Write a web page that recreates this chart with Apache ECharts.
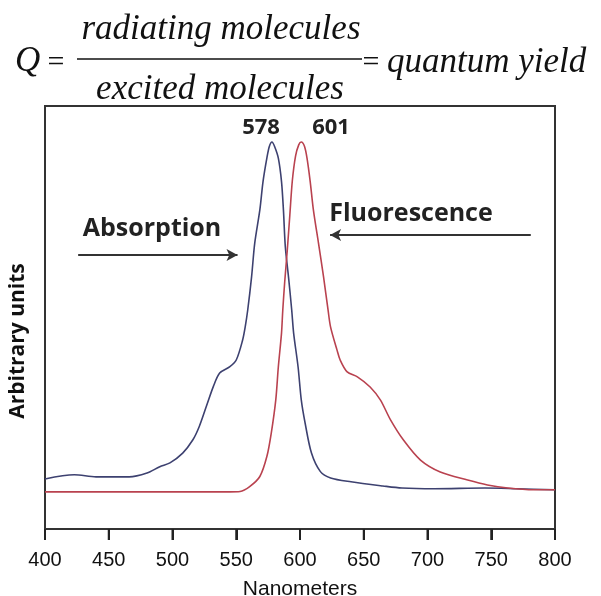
<!DOCTYPE html>
<html>
<head>
<meta charset="utf-8">
<script src="https://cdn.jsdelivr.net/npm/echarts@6/dist/echarts.min.js"></script>
<style>
html,body{margin:0;padding:0;background:#fff;}
#chart{width:601px;height:596px;}
</style>
</head>
<body>
<div id="chart"></div>
<script>
// ---- data (arbitrary units, 0 = bottom of frame) ----
var xTicks = [400, 450, 500, 550, 600, 650, 700, 750, 800];
var absNm = [400, 423, 440, 466, 480, 490, 498, 508, 516, 521, 526.5, 532, 537, 545, 550, 555, 557, 559, 562, 564.5, 568.5, 571, 574, 576, 578, 580, 583, 585.5, 587, 588.5, 591, 593.5, 595, 598.5, 601, 604, 609, 616, 624, 640, 665, 680, 705, 745, 770, 800];
var absVal = [14.3, 15.5, 14.9, 14.9, 16, 17.8, 18.9, 21.7, 25.5, 29.3, 35, 40.7, 44.6, 46.4, 48.3, 54, 57.7, 62.6, 72, 81.7, 91.2, 99.3, 106, 109.4, 110.6, 109.4, 106, 99.3, 91.2, 80.6, 72, 62.6, 56, 46.3, 36.9, 30.3, 21.7, 16.4, 14.6, 13.5, 12.3, 11.7, 11.5, 11.7, 11.5, 11.2];
var fluNm = [400, 545, 553, 560.5, 568.5, 574, 577.5, 581, 583, 585.5, 586.5, 588, 590, 592, 594, 596.5, 599, 601, 603.5, 605.5, 608, 610.5, 614.5, 618.5, 622, 624, 629, 631.5, 637, 645, 655, 663, 671, 681, 694.5, 710, 731.5, 747, 763, 783.5, 800];
var fluVal = [10.6, 10.6, 10.7, 12.1, 15, 20.7, 27.5, 36.9, 46.3, 56, 62.6, 70.6, 79.6, 89.6, 99.6, 106.6, 109.8, 110.6, 109.4, 106, 99.3, 91.2, 81.7, 72, 62.6, 57.7, 51.2, 48.3, 44.9, 43.5, 40.6, 36.9, 31.2, 25.5, 19.7, 16.3, 14, 12.6, 11.7, 11.2, 11.2];
var peakLabels = ['578', '601'];
var seriesNames = ['Absorption', 'Fluorescence'];
// arrows in data coords [x0, y0, x1, y1]
var absArrow = [426, 78.3, 551, 78.3];
var fluArrow = [781, 84, 623.6, 84];

function pairs(xs, ys){ return xs.map(function(x,i){ return [x, ys[i]]; }); }

var chart = echarts.init(document.getElementById('chart'), null, {renderer:'canvas'});
var serif = '"Liberation Serif","Times New Roman",serif';
var sans = '"Open Sans","Liberation Sans",Arial,sans-serif';
var arial = '"Liberation Sans",Arial,sans-serif';

var baseGraphic = [
  {type: 'text', left: 15, top: 44, style: {text: 'Q', font: 'italic 35px ' + serif, fill: '#111'}},
  {type: 'text', x: 56, y: 63, style: {text: '=', font: '30px ' + serif, fill: '#111', textAlign: 'center', textVerticalAlign: 'middle'}},
  {type: 'text', x: 221, y: 30, style: {text: 'radiating molecules', font: 'italic 35px ' + serif, fill: '#111', textAlign: 'center', textVerticalAlign: 'middle'}},
  {type: 'line', shape: {x1: 77, y1: 59, x2: 362, y2: 59}, style: {stroke: '#111', lineWidth: 1.5}},
  {type: 'text', x: 220, y: 90, style: {text: 'excited molecules', font: 'italic 35px ' + serif, fill: '#111', textAlign: 'center', textVerticalAlign: 'middle'}},
  {type: 'text', x: 371, y: 63, style: {text: '=', font: '30px ' + serif, fill: '#111', textAlign: 'center', textVerticalAlign: 'middle'}},
  {type: 'text', x: 387, y: 63, style: {text: 'quantum yield', font: 'italic 35px ' + serif, fill: '#111', textAlign: 'left', textVerticalAlign: 'middle'}},
  {type: 'text', x: 18, y: 341, rotation: Math.PI / 2, style: {text: 'Arbitrary units', font: 'bold 21px ' + sans, fill: '#111', textAlign: 'center', textVerticalAlign: 'middle'}},
  {type: 'text', x: 261, y: 128, style: {text: peakLabels[0], font: 'bold 22px ' + sans, fill: '#222', textAlign: 'center', textVerticalAlign: 'middle'}},
  {type: 'text', x: 331, y: 128, style: {text: peakLabels[1], font: 'bold 22px ' + sans, fill: '#222', textAlign: 'center', textVerticalAlign: 'middle'}},
  {type: 'text', x: 152, y: 229, style: {text: seriesNames[0], font: 'bold 25px ' + sans, fill: '#222', textAlign: 'center', textVerticalAlign: 'middle'}},
  {type: 'text', x: 411, y: 214, style: {text: seriesNames[1], font: 'bold 25px ' + sans, fill: '#222', textAlign: 'center', textVerticalAlign: 'middle'}}
];

var option = {
  animation: false,
  backgroundColor: '#fff',
  grid: {left: 45, right: 46, top: 106, bottom: 67, containLabel: false, outerBoundsMode: 'none',
         show: true, borderColor: '#333', borderWidth: 2, backgroundColor: 'transparent'},
  xAxis: {
    type: 'value', min: 400, max: 800, interval: 50,
    name: 'Nanometers', nameLocation: 'middle', nameGap: 50,
    nameTextStyle: {fontFamily: arial, fontSize: 21, color: '#111'},
    axisLine: {show: true, lineStyle: {color: '#333', width: 2}},
    axisTick: {show: true, inside: false, length: 11, lineStyle: {color: '#222', width: 2}},
    axisLabel: {margin: 21, fontFamily: arial, fontSize: 20, color: '#111'},
    splitLine: {show: false}
  },
  yAxis: {
    type: 'value', min: 0, max: 120.9,
    axisLine: {show: false}, axisTick: {show: false}, axisLabel: {show: false}, splitLine: {show: false}
  },
  series: [
    {
      name: seriesNames[0], type: 'line', data: pairs(absNm, absVal), smooth: 0.3, showSymbol: false,
      lineStyle: {color: '#3d4170', width: 1.6},
      markLine: {
        silent: true, symbol: ['none', 'arrow'], symbolSize: [9, 11],
        lineStyle: {color: '#333', width: 1.8, type: 'solid'}, label: {show: false},
        data: [[{coord: [absArrow[0], absArrow[1]]}, {coord: [absArrow[2], absArrow[3]]}]]
      }
    },
    {
      name: seriesNames[1], type: 'line', data: pairs(fluNm, fluVal), smooth: 0.3, showSymbol: false,
      lineStyle: {color: '#b9424f', width: 1.6},
      markLine: {
        silent: true, symbol: ['none', 'arrow'], symbolSize: [9, 11],
        lineStyle: {color: '#333', width: 1.8, type: 'solid'}, label: {show: false},
        data: [[{coord: [fluArrow[0], fluArrow[1]]}, {coord: [fluArrow[2], fluArrow[3]]}]]
      }
    }
  ],
  graphic: baseGraphic
};
chart.setOption(option);

// tick marks below the frame, positioned through the x axis scale
var yBottom = chart.convertToPixel({yAxisIndex: 0}, 0);
var tickMarks = xTicks.map(function (t) {
  var px = chart.convertToPixel({xAxisIndex: 0}, t);
  return {type: 'line', silent: true, z: 10,
          shape: {x1: px, y1: yBottom, x2: px, y2: yBottom + 11},
          style: {stroke: '#222', lineWidth: 2}};
});
chart.setOption({graphic: baseGraphic.concat(tickMarks)});
</script>
</body>
</html>
